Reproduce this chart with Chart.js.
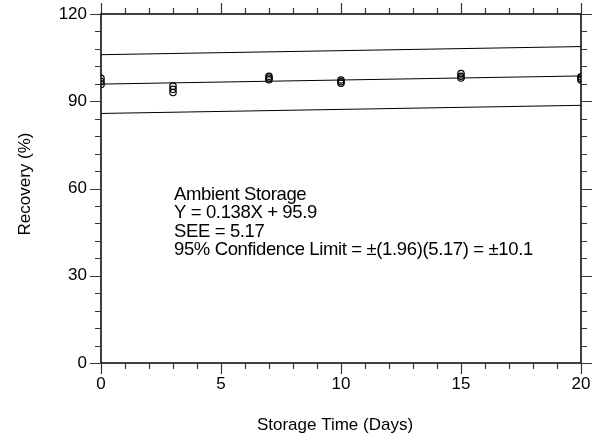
<!DOCTYPE html>
<html>
<head>
<meta charset="utf-8">
<script src="https://cdn.jsdelivr.net/npm/chart.js@4"></script>
<style>
  html, body { margin: 0; padding: 0; background: #fff; }
  #wrap { width: 597px; height: 442px; position: relative; }
</style>
</head>
<body>
<div id="wrap"><canvas id="c"></canvas></div>
<script>
// ---- data ----
const days = [0, 0, 0, 3, 3, 3, 7, 7, 7, 10, 10, 10, 15, 15, 15, 20, 20, 20];
const recovery = [97.9, 96.8, 95.8, 95.2, 94.1, 93.0, 98.6, 98.0, 97.4, 97.3, 96.7, 96.2, 99.5, 98.6, 98.0, 98.4, 97.8, 97.3];
const lineDays = [0, 20];
const fitLine = [95.9, 98.7];
const upperLimit = [106.0, 108.8];
const lowerLimit = [85.8, 88.6];
const xRange = [0, 20];
const yRange = [0, 120];
const xMajorStep = 5, xMinorStep = 1;
const yMajorStep = 30, yMinorStep = 6;
const xTitle = 'Storage Time (Days)';
const yTitle = 'Recovery (%)';
const noteLines = ['Ambient Storage', 'Y = 0.138X + 95.9', 'SEE = 5.17', '95% Confidence Limit = \u00B1(1.96)(5.17) = \u00B110.1'];
const noteAnchor = [3, 60];

const FONT = '"Liberation Sans", Arial, sans-serif';

const pts = days.map((d, i) => ({ x: d, y: recovery[i] }));
const mk = arr => lineDays.map((d, i) => ({ x: d, y: arr[i] }));

const lineDs = (arr) => ({
  type: 'line', data: mk(arr), borderColor: '#000', borderWidth: 1,
  pointRadius: 0, fill: false, tension: 0
});

const decor = {
  id: 'decor',
  afterDraw(chart) {
    const { ctx, chartArea: { left, right, top, bottom }, scales: { x, y } } = chart;
    ctx.save();
    ctx.strokeStyle = '#000';
    ctx.lineWidth = 1.5;
    ctx.strokeRect(left, top, right - left, bottom - top);
    ctx.lineWidth = 1.2;
    ctx.strokeStyle = '#333';
    ctx.beginPath();
    for (let v = xRange[0]; v <= xRange[1] + 1e-9; v += xMinorStep) {
      const px = Math.round(x.getPixelForValue(v)) + 0.5;
      const len = (v % xMajorStep === 0) ? 11 : 6;
      ctx.moveTo(px, bottom); ctx.lineTo(px, bottom + len);
      ctx.moveTo(px, top); ctx.lineTo(px, top - len);
    }
    for (let v = yRange[0]; v <= yRange[1] + 1e-9; v += yMinorStep) {
      const py = Math.round(y.getPixelForValue(v)) + 0.5;
      const len = (v % yMajorStep === 0) ? 11 : 6;
      ctx.moveTo(left, py); ctx.lineTo(left - len, py);
      ctx.moveTo(right, py); ctx.lineTo(right + len, py);
    }
    ctx.stroke();

    // axis titles
    ctx.fillStyle = '#000';
    ctx.font = '17px ' + FONT;
    ctx.textAlign = 'center';
    ctx.textBaseline = 'middle';
    ctx.fillText(xTitle, 335, 425);
    ctx.save();
    ctx.translate(25, 184);
    ctx.rotate(-Math.PI / 2);
    ctx.fillText(yTitle, 0, 0);
    ctx.restore();

    // annotation
    ctx.font = '18.5px ' + FONT;
    ctx.letterSpacing = '-0.37px';
    ctx.textAlign = 'left';
    ctx.textBaseline = 'alphabetic';
    const nx = x.getPixelForValue(noteAnchor[0]) + 1;
    const ny = y.getPixelForValue(noteAnchor[1]) + 11.5;
    noteLines.forEach((t, i) => ctx.fillText(t, nx, ny + i * 18.3));
    ctx.restore();
  }
};

new Chart(document.getElementById('c'), {
  type: 'scatter',
  data: {
    datasets: [
      {
        data: pts, pointStyle: 'circle', pointRadius: 3.2, pointBorderWidth: 1.2,
        pointBorderColor: '#000', pointBackgroundColor: 'rgba(0,0,0,0)', clip: 0, showLine: false
      },
      lineDs(fitLine),
      lineDs(upperLimit),
      lineDs(lowerLimit)
    ]
  },
  options: {
    responsive: true,
    maintainAspectRatio: false,
    animation: false,
    events: [],
    layout: { padding: { top: 14, right: 16, left: 0, bottom: 0 } },
    plugins: { legend: { display: false }, tooltip: { enabled: false } },
    scales: {
      x: {
        type: 'linear', min: xRange[0], max: xRange[1],
        grid: { display: false, drawTicks: false },
        border: { display: false },
        ticks: { stepSize: xMajorStep, color: '#000', padding: 11, font: { family: FONT, size: 17 } },
        afterFit(s) { s.height = 79; s.paddingLeft = 0; s.paddingRight = 0; }
      },
      y: {
        type: 'linear', min: yRange[0], max: yRange[1],
        grid: { display: false, drawTicks: false },
        border: { display: false },
        ticks: { stepSize: yMajorStep, color: '#000', padding: 14, font: { family: FONT, size: 17 } },
        afterFit(s) { s.width = 101; s.paddingTop = 0; s.paddingBottom = 0; }
      }
    }
  },
  plugins: [decor]
});
</script>
</body>
</html>
